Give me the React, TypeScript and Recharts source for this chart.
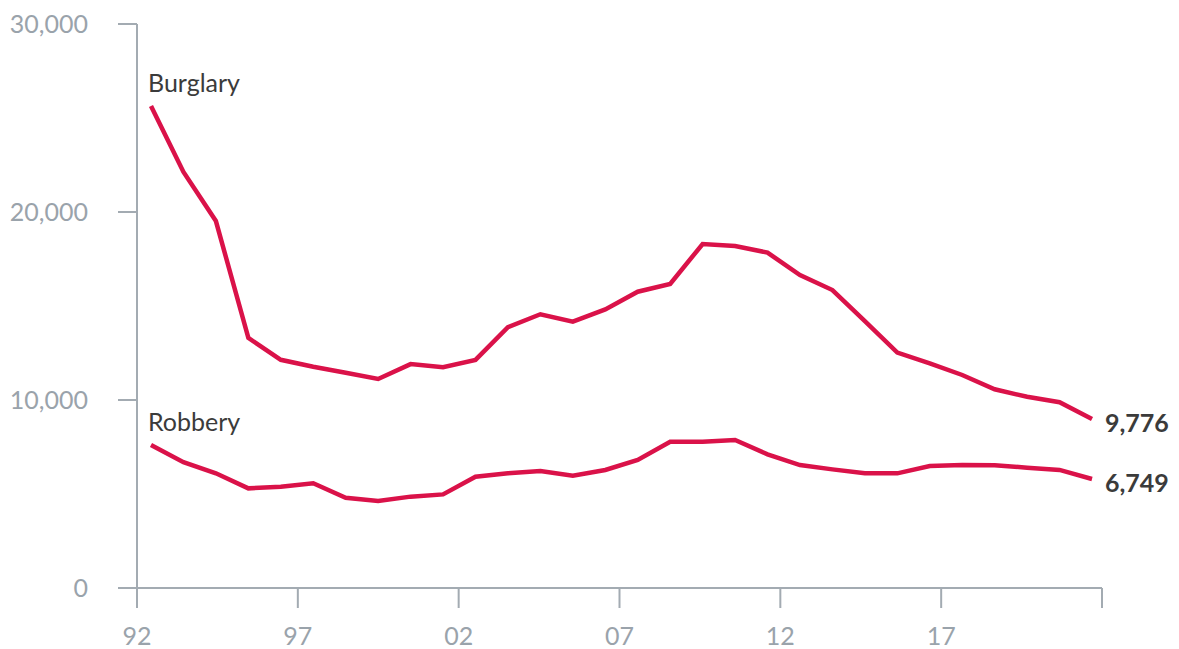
import React from 'react';
import { LineChart, Line, XAxis, YAxis } from 'recharts';

const years = [
  1992, 1993, 1994, 1995, 1996, 1997, 1998, 1999, 2000, 2001,
  2002, 2003, 2004, 2005, 2006, 2007, 2008, 2009, 2010, 2011,
  2012, 2013, 2014, 2015, 2016, 2017, 2018, 2019, 2020, 2021,
];
const burglary = [
  25640, 22130, 19520, 13300, 12140, 11770, 11450, 11120, 11910, 11740,
  12130, 13870, 14560, 14170, 14820, 15760, 16170, 18300, 18190, 17840,
  16650, 15850, 14200, 12520, 11950, 11330, 10570, 10170, 9880, 8990,
];
const robbery = [
  7610, 6690, 6100, 5300, 5390, 5570, 4800, 4630, 4860, 4980,
  5920, 6100, 6220, 5970, 6280, 6810, 7780, 7780, 7870, 7110,
  6540, 6310, 6100, 6100, 6490, 6540, 6530, 6400, 6280, 5800,
];
const seriesNames = ['Burglary', 'Robbery'];
const endLabels = ['9,776', '6,749'];
const yTicks = [0, 10000, 20000, 30000];
const xTicks = [1992, 1997, 2002, 2007, 2012, 2017, 2022];

const data = years.map((year, i) => ({ year, burglary: burglary[i], robbery: robbery[i] }));

const LINE = '#da1249';
const AXIS = '#a3abb2';
const TICK_TEXT = '#9aa3ab';
const DARK = '#3b3b3b';
const FONT = 'Lato, "Open Sans", sans-serif';

const makeLabel = (seriesIdx: number) => (props: any) => {
  const { x, y, index } = props;
  if (index === 0) {
    return (
      <text key={`n${seriesIdx}`} x={x - 3} y={y - 14} fill={DARK} fontSize={25} fontFamily={FONT}>
        {seriesNames[seriesIdx]}
      </text>
    );
  }
  if (index === data.length - 1) {
    return (
      <text key={`e${seriesIdx}`} x={x + 13} y={y + 13} fill={DARK} fontSize={25} fontWeight={700} fontFamily={FONT}>
        {endLabels[seriesIdx]}
      </text>
    );
  }
  return null;
};

const fmtY = (v: number) => v.toLocaleString('en-US');
const fmtX = (v: number) => (v === 2022 ? '' : String(v % 100).padStart(2, '0'));

export default function App() {
  return (
    <div style={{ position: 'absolute', left: 0, top: 0, background: '#fff' }}>
      <LineChart
        width={1179}
        height={649}
        data={data}
        margin={{ top: 24, right: 77, bottom: 0, left: 0 }}
      >
        <XAxis
          xAxisId="d"
          dataKey="year"
          type="number"
          domain={[1991.5685, 2021.308]}
          allowDataOverflow
          height={0}
          hide
        />
        <XAxis
          xAxisId="t"
          dataKey="year"
          type="number"
          domain={[1992, 2022]}
          allowDataOverflow
          ticks={xTicks}
          interval={0}
          tickFormatter={fmtX}
          height={61}
          stroke={AXIS}
          strokeWidth={2}
          tickSize={20}
          tickMargin={19}
          tick={{ fill: TICK_TEXT, fontSize: 25, fontFamily: FONT }}
        />
        <YAxis
          type="number"
          domain={[0, 30000]}
          ticks={yTicks}
          interval={0}
          tickFormatter={fmtY}
          width={137}
          stroke={AXIS}
          strokeWidth={2}
          tickSize={19}
          tickMargin={30}
          tick={{ fill: TICK_TEXT, fontSize: 25, fontFamily: FONT }}
        />
        <Line
          xAxisId="d"
          dataKey="burglary"
          stroke={LINE}
          strokeWidth={4.5}
          dot={false}
          isAnimationActive={false}
          label={makeLabel(0)}
        />
        <Line
          xAxisId="d"
          dataKey="robbery"
          stroke={LINE}
          strokeWidth={4.5}
          dot={false}
          isAnimationActive={false}
          label={makeLabel(1)}
        />
      </LineChart>
    </div>
  );
}
